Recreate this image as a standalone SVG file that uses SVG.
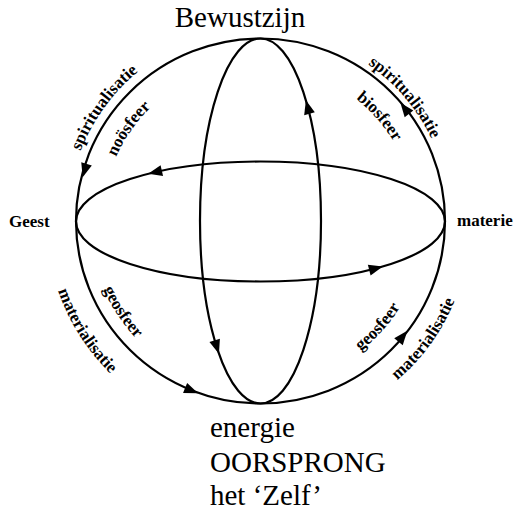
<svg xmlns="http://www.w3.org/2000/svg" xmlns:xlink="http://www.w3.org/1999/xlink" width="513" height="510" viewBox="0 0 513 510">
<style>
.ln{fill:none;stroke:#000;stroke-width:2.2}
.ah{fill:#000;stroke:none}
.big{font-size:29px;fill:#000}
.sm{font-size:17px;font-weight:bold;fill:#000}
</style>
<defs>
<path id="ah" d="M7,0 L-7,-5.5 L-7,5.5 Z"/>
<path id="p1" d="M68.0,234.5 A193,193 0 0 1 213.8,33.7"/>
<path id="p2" d="M103.1,234.8 A158,158 0 0 1 219.6,68.4"/>
<path id="p3" d="M295.1,34.1 A190,190 0 0 1 450.2,215.6"/>
<path id="p4" d="M283.9,67.8 A155,155 0 0 1 415.5,217.5"/>
<path id="p5" d="M90.6,201.4 A171,171 0 0 0 211.6,384.9"/>
<path id="p6" d="M48.4,192.3 A214,214 0 0 0 195.4,424.9"/>
<path id="p7" d="M283.3,383.4 A164,164 0 0 0 424.4,226.7"/>
<path id="p8" d="M312.0,424.5 A210,210 0 0 0 469.9,205.6"/>
</defs>
<rect width="513" height="510" fill="#fff"/>
<g id="connectors">
<ellipse class="ln" cx="260.5" cy="221" rx="184.5" ry="182.5"/>
<ellipse class="ln" cx="260.5" cy="221.5" rx="184.5" ry="60"/>
<ellipse class="ln" cx="260.5" cy="221" rx="60.5" ry="182.5"/>
<use xlink:href="#ah" class="ah" transform="translate(84.6,170.6) rotate(106)"/>
<use xlink:href="#ah" class="ah" transform="translate(155,172.3) rotate(167)"/>
<use xlink:href="#ah" class="ah" transform="translate(307.7,107) rotate(255)"/>
<use xlink:href="#ah" class="ah" transform="translate(404.7,108.3) rotate(232)"/>
<use xlink:href="#ah" class="ah" transform="translate(376,268.3) rotate(-14.6)"/>
<use xlink:href="#ah" class="ah" transform="translate(402.9,336.3) rotate(-51)"/>
<use xlink:href="#ah" class="ah" transform="translate(216.8,347) rotate(72.3)"/>
<use xlink:href="#ah" class="ah" transform="translate(191.6,390.6) rotate(22)"/>
</g>
<g font-family="Liberation Serif, DejaVu Serif, serif">
<g id="bewustzijn"><text class="big" x="240" y="27" text-anchor="middle">Bewustzijn</text></g>
<g id="oorsprong">
<text class="big" x="210" y="437">energie</text>
<text class="big" x="210" y="471.5">OORSPRONG</text>
<text class="big" x="210" y="505">het ‘Zelf’</text>
</g>
<g id="geest"><text class="sm" x="9" y="227">Geest</text></g>
<g id="materie"><text class="sm" x="457" y="226">materie</text></g>
<g id="spiritualisatie-l"><text class="sm"><textPath xlink:href="#p1" startOffset="50%" text-anchor="middle">spiritualisatie</textPath></text></g>
<g id="noosfeer"><text class="sm"><textPath xlink:href="#p2" startOffset="50%" text-anchor="middle">noösfeer</textPath></text></g>
<g id="spiritualisatie-r"><text class="sm"><textPath xlink:href="#p3" startOffset="50%" text-anchor="middle">spiritualisatie</textPath></text></g>
<g id="biosfeer"><text class="sm"><textPath xlink:href="#p4" startOffset="50%" text-anchor="middle">biosfeer</textPath></text></g>
<g id="geosfeer-l"><text class="sm"><textPath xlink:href="#p5" startOffset="50%" text-anchor="middle">geosfeer</textPath></text></g>
<g id="materialisatie-l"><text class="sm"><textPath xlink:href="#p6" startOffset="50%" text-anchor="middle">materialisatie</textPath></text></g>
<g id="geosfeer-r"><text class="sm"><textPath xlink:href="#p7" startOffset="50%" text-anchor="middle">geosfeer</textPath></text></g>
<g id="materialisatie-r"><text class="sm"><textPath xlink:href="#p8" startOffset="50%" text-anchor="middle">materialisatie</textPath></text></g>
</g>
</svg>
